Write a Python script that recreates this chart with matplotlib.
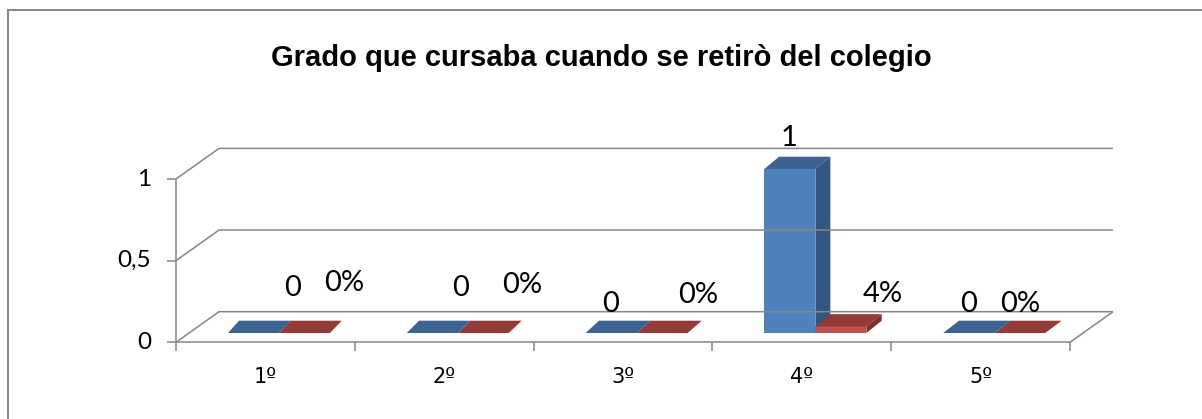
import matplotlib
matplotlib.use('Agg')
import matplotlib.pyplot as plt
from matplotlib.patches import Polygon
from matplotlib.lines import Line2D

# ---------------- data ----------------
categories = ['1º', '2º', '3º', '4º', '5º']
counts = [0, 0, 0, 1, 0]
percents = [0, 0, 0, 0.04, 0]
count_labels = ['0', '0', '0', '1', '0']
percent_labels = ['0%', '0%', '0%', '4%', '0%']
yticks = [0, 0.5, 1]
ytick_labels = ['0', '0,5', '1']
title = 'Grado que cursaba cuando se retirò del colegio'

# label offsets (pixels, from bar front-top centre)
count_label_offsets = [(39.5, 45), (28, 45), (-0.5, 29), (-0.5, 31), (-0.5, 29)]
percent_label_offsets = [(39.3, 50), (38.8, 48.5), (36, 38), (41.7, 32.4), (0, 29)]

# ---------------- style ----------------
GRAY = '#868686'
LW = 1.1
BLUE = dict(front='#4F81BD', side='#34557F', top='#3C6391')
RED = dict(front='#C0504D', side='#7A2F2D', top='#923B39')
FONT = ['Lato', 'DejaVu Sans']

W, H = 1202, 419
fig = plt.figure(figsize=(W / 100, H / 100), dpi=100)
fig.patch.set_facecolor('white')

X0, X1 = 176, 1070
Y0 = 342.3
UNIT = 163.3
ax = fig.add_axes([X0 / W, (H - Y0) / H, (X1 - X0) / W, UNIT / H])
ax.set_xlim(0.5, 5.5)
ax.set_ylim(0, 1)
ax.axis('off')
sx = 5 / (X1 - X0)
sy = 1 / UNIT

# outer border
fig.add_artist(Line2D([8 / W, 1.0], [1 - 10 / H, 1 - 10 / H], transform=fig.transFigure,
                      color=GRAY, lw=1.4))
fig.add_artist(Line2D([8 / W, 8 / W], [0, 1 - 10 / H], transform=fig.transFigure,
                      color=GRAY, lw=1.4))

# walls / gridlines
WDX, WDY = 43 * sx, 30.6 * sy
kw = dict(color=GRAY, lw=LW, clip_on=False, solid_capstyle='butt')
for v in yticks:
    ax.plot([0.5, 0.5 + WDX, 5.5 + WDX], [v, v + WDY, v + WDY], **kw)
    ax.plot([0.5 - 9 * sx, 0.5], [v, v], **kw)
ax.plot([0.5, 5.5], [0, 0], **kw)
ax.plot([5.5, 5.5 + WDX], [0, WDY], **kw)
ax.plot([0.5, 0.5], [0, 1], **kw)
for k in range(len(categories) + 1):
    b = 0.5 + k
    ax.plot([b, b], [0, -9 * sy], **kw)

for v, lab in zip(yticks, ytick_labels):
    ax.text(0.5 - 25 * sx, v, lab, ha='right', va='center', fontsize=17.5,
            family=FONT, color='black', clip_on=False)

for i, lab in enumerate(categories):
    ax.text(i + 1, -34.7 * sy, lab, ha='center', va='center', fontsize=15,
            family=['DejaVu Sans'], color='black', clip_on=False)


def depth_dx(xd):
    xpx = X0 + (xd - 0.5) / sx
    return (11 + (xpx - 228) * 0.0067) * sx


def bar(xl, v, col):
    xr = xl + 51 * sx
    yb = 9.3 * sy
    yt = yb + v * 164 * sy
    ddy = 12.3 * sy
    dl, dr = depth_dx(xl), depth_dx(xr)
    if v > 0:
        ax.add_patch(Polygon([(xl, yb), (xr, yb), (xr, yt), (xl, yt)], closed=True,
                             fc=col['front'], ec='none', clip_on=False))
        ax.add_patch(Polygon([(xr, yb), (xr + dr, yb + ddy), (xr + dr, yt + ddy), (xr, yt)],
                             closed=True, fc=col['side'], ec='none', clip_on=False))
    ax.add_patch(Polygon([(xl, yt), (xr, yt), (xr + dr, yt + ddy), (xl + dl, yt + ddy)],
                         closed=True, fc=col['top'], ec='none', clip_on=False))
    return (xl + xr) / 2, yt


for i in range(len(categories)):
    c = i + 1
    ax_b, ay_b = bar(c - 37.4 * sx, counts[i], BLUE)
    ax_r, ay_r = bar(c + 13.6 * sx, percents[i], RED)
    ax.annotate(count_labels[i], (ax_b, ay_b), xytext=count_label_offsets[i],
                textcoords='offset pixels', ha='center', va='center', fontsize=21,
                family=FONT, annotation_clip=False)
    ax.annotate(percent_labels[i], (ax_r, ay_r), xytext=percent_label_offsets[i],
                textcoords='offset pixels', ha='center', va='center', fontsize=21,
                family=FONT, annotation_clip=False)

fig.text(601 / W, 1 - 58 / H, title, ha='center', va='center', fontsize=21,
         fontweight='bold', family=['Liberation Sans', 'DejaVu Sans'])

fig.savefig('out.png', dpi=100, facecolor='white')
